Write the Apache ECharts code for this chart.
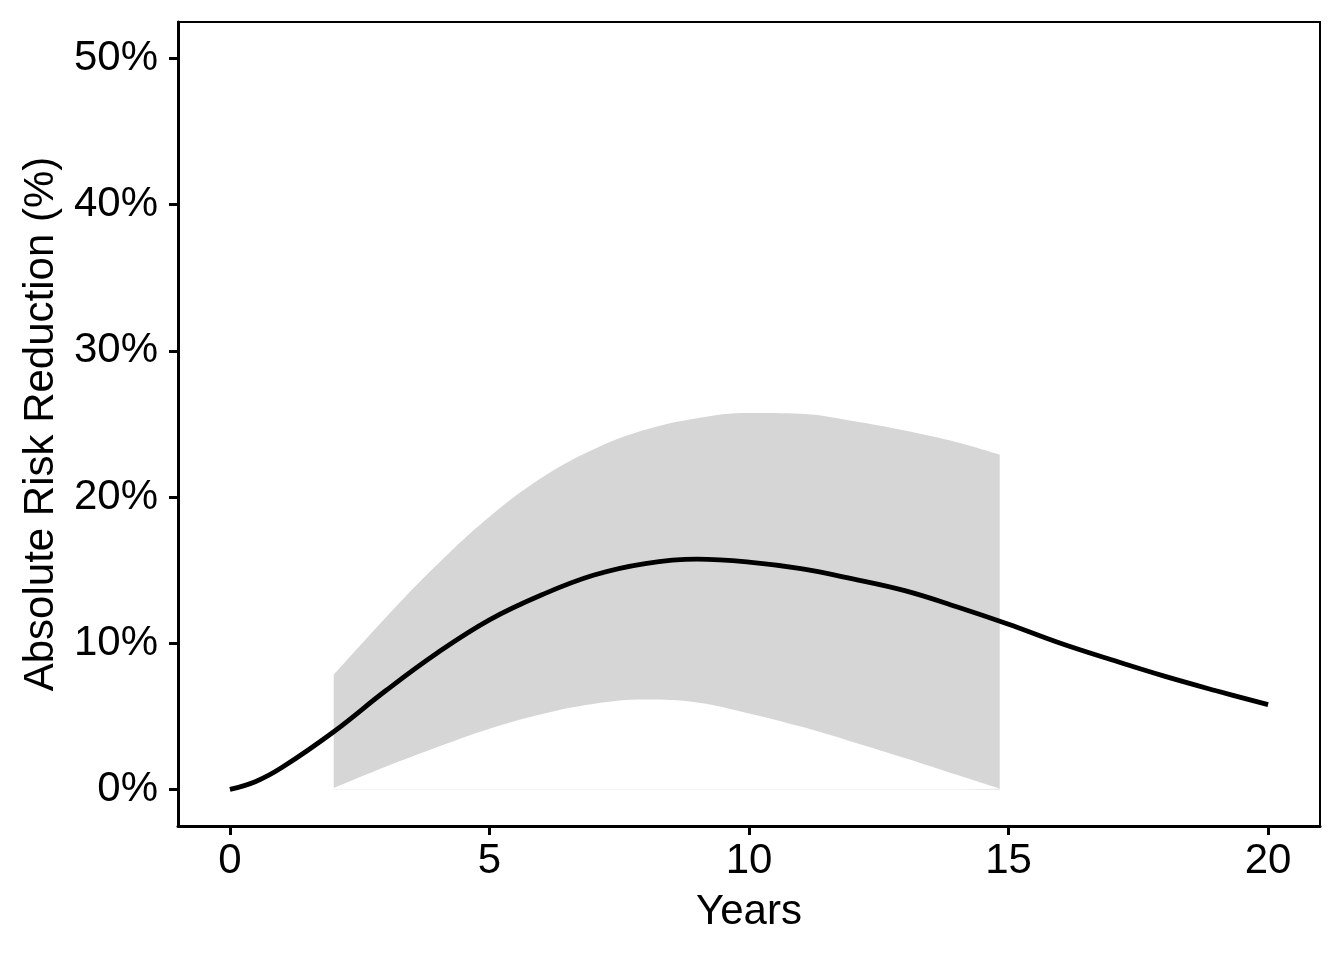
<!DOCTYPE html>
<html>
<head>
<meta charset="utf-8">
<script src="https://cdn.jsdelivr.net/npm/echarts@6/dist/echarts.min.js"></script>
<style>html,body{margin:0;padding:0;background:#fff}#c{width:1344px;height:960px}</style>
</head>
<body>
<div id="c"></div>
<script>
// Estimate line
const lineYears = [0,0.5,1,2,3,4,5,6,7,8,9,10,11,12,13,14,15,16,17,18,19,20];
const lineARR   = [0,0.55,1.5,3.95,6.75,9.35,11.6,13.3,14.65,15.45,15.75,15.55,15.1,14.4,13.6,12.5,11.3,10.0,8.85,7.75,6.75,5.8];
// Confidence band
const bandYears = [2,3,4,5,6,7,8,9,10,11,12,13,14,14.83];
const bandUpper = [7.85,11.75,15.4,18.65,21.3,23.25,24.6,25.4,25.75,25.7,25.2,24.55,23.75,22.9];
const bandLower = [0.1,1.55,2.9,4.15,5.15,5.85,6.15,5.95,5.2,4.3,3.25,2.15,1.0,0.05];
const xTicks = [0,5,10,15,20];
const yTicks = [0,10,20,30,40,50];

const font = 'Liberation Sans, Arial, Helvetica, sans-serif';
const chart = echarts.init(document.getElementById('c'), null, {renderer:'canvas'});
chart.setOption({
  animation:false,
  backgroundColor:'#fff',
  grid:{left:178,right:24,top:22,bottom:134,show:true,borderColor:'#000',borderWidth:2,backgroundColor:'transparent'},
  xAxis:{
    type:'value',min:-1,max:21,z:10,
    name:'Years',nameLocation:'middle',nameGap:65,
    nameTextStyle:{fontFamily:font,fontSize:42,color:'#000'},
    axisLine:{show:true,onZero:false,lineStyle:{color:'#000',width:3}},
    axisTick:{show:true,length:9,lineStyle:{color:'#000',width:3},customValues:xTicks},
    axisLabel:{fontFamily:font,fontSize:42,color:'#000',margin:14,customValues:xTicks},
    splitLine:{show:false}
  },
  yAxis:{
    type:'value',min:-2.5,max:52.5,z:10,
    name:'Absolute Risk Reduction (%)',nameLocation:'middle',nameGap:116,
    nameTextStyle:{fontFamily:font,fontSize:42,color:'#000'},
    axisLine:{show:true,onZero:false,lineStyle:{color:'#000',width:3}},
    axisTick:{show:true,length:9,lineStyle:{color:'#000',width:3},customValues:yTicks},
    axisLabel:{fontFamily:font,fontSize:42,color:'#000',margin:20,customValues:yTicks,formatter:v=>v+'%'},
    splitLine:{show:false}
  },
  series:[
    {type:'line',smooth:0.4,showSymbol:false,silent:true,z:1,
     lineStyle:{width:0,opacity:0},
     areaStyle:{color:'#d6d6d6',opacity:1,origin:'auto'},
     data:bandYears.map((x,i)=>[x,bandUpper[i]])},
    {type:'line',smooth:0.4,showSymbol:false,silent:true,z:2,
     lineStyle:{width:0,opacity:0},
     areaStyle:{color:'#ffffff',opacity:1,origin:'auto'},
     data:bandYears.map((x,i)=>[x,bandLower[i]])},
    {type:'line',smooth:0.4,showSymbol:false,silent:true,z:3,
     lineStyle:{color:'#000',width:4.8},
     data:lineYears.map((x,i)=>[x,lineARR[i]])}
  ]
});
</script>
</body>
</html>
